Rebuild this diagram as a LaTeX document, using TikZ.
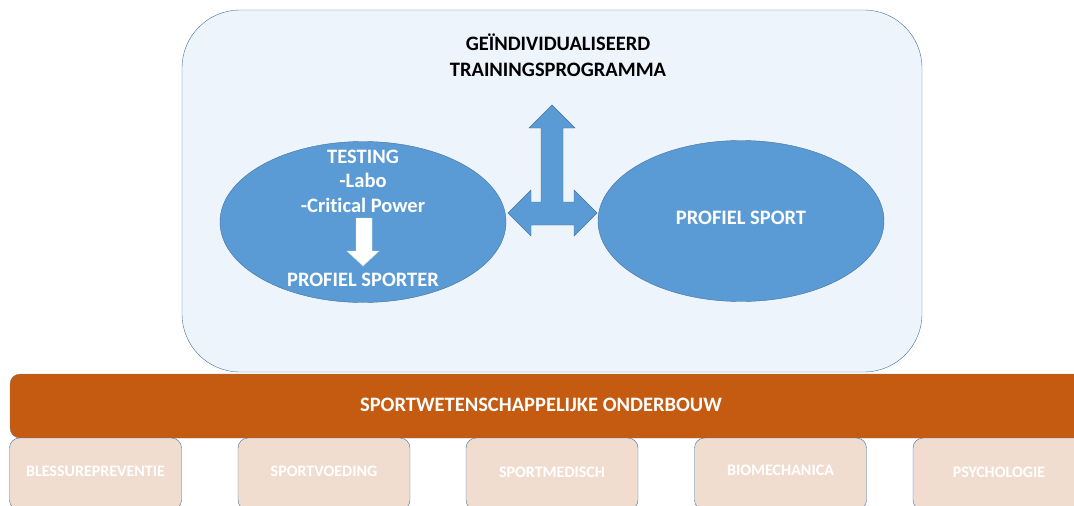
\documentclass[tikz,border=0pt]{standalone}
\usepackage{fontspec}
\setmainfont[Ligatures=NoCommon]{Carlito}
\usetikzlibrary{shapes.geometric}

\definecolor{paneblue}{HTML}{EEF4FC}
\definecolor{edgeblue}{HTML}{41719C}
\definecolor{ovalblue}{HTML}{5B9BD5}
\definecolor{barorange}{HTML}{C55A11}
\definecolor{tilepeach}{HTML}{F1DDD0}

\begin{document}
\begin{tikzpicture}[x=1pt,y=-1pt,
  oval/.style={ellipse, draw=edgeblue, fill=ovalblue, minimum width=286, minimum height=161, inner sep=0},
  tile/.style={draw=edgeblue, fill=tilepeach, rounded corners=10, minimum width=172, minimum height=72, inner sep=0},
  whitetext/.style={text=white, font=\bfseries\fontsize{20.5}{24.5}\selectfont, align=center},
  tiletext/.style={text=white, font=\bfseries\fontsize{16}{18}\selectfont}
]
\useasboundingbox (0,0) rectangle (1074,506);
\clip (0,0) rectangle (1074,506);

\draw[draw=edgeblue, fill=paneblue, rounded corners=58] (182,10) rectangle (922,372);
\node[font=\bfseries\fontsize{20.5}{26}\selectfont, align=center] (title) at (558,55) {GEÏNDIVIDUALISEERD\\TRAININGSPROGRAMMA};

\node[oval] (sporter) at (363,222) {};
\node[oval] (sport) at (741,221) {};

\node[whitetext] (testing) at (363,181) {TESTING\\-Labo\\-Critical Power};
\node[whitetext] (sporterlabel) at (363,280) {PROFIEL SPORTER};
\node[whitetext] (sportlabel) at (741,218) {PROFIEL SPORT};

\draw[draw=white!80!edgeblue, fill=white] (356,218) -- (372,218) -- (372,251) -- (379,251) -- (363,266) -- (347,251) -- (356,251) -- cycle;

\draw[draw=edgeblue, fill=ovalblue] (552,105) -- (575,128) -- (563,128) -- (563,202) -- (574,202) -- (574,190) -- (597,213) -- (574,236) -- (574,225) -- (531,225) -- (531,236) -- (508,213) -- (531,190) -- (531,202) -- (541,202) -- (541,128) -- (529,128) -- cycle;

\draw[draw=gray, fill=barorange, rounded corners=10] (10,374) rectangle (1090,438);
\node[whitetext] (base) at (541,405) {SPORTWETENSCHAPPELIJKE ONDERBOUW};

\node[tile] (blessure) at (95.5,474) {};
\node[tile] (voeding) at (324,474) {};
\node[tile] (medisch) at (552,474) {};
\node[tile] (biomech) at (780.5,474) {};
\node[tile] (psycho) at (999,474) {};
\node[tiletext] at (95.5,471) {BLESSUREPREVENTIE};
\node[tiletext] at (324,471) {SPORTVOEDING};
\node[tiletext] at (552,472) {SPORTMEDISCH};
\node[tiletext] at (780.5,470) {BIOMECHANICA};
\node[tiletext] at (999,472) {PSYCHOLOGIE};
\end{tikzpicture}
\end{document}
